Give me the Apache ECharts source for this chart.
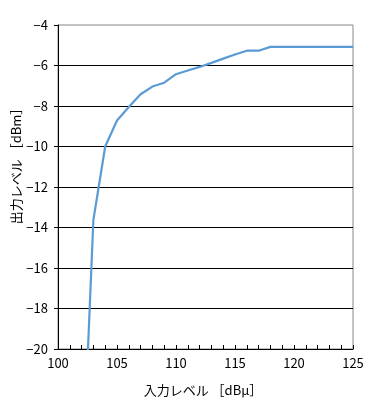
<!DOCTYPE html>
<html><head><meta charset="utf-8">
<script src="https://cdn.jsdelivr.net/npm/echarts@6/dist/echarts.min.js"></script>
<style>html,body{margin:0;padding:0;background:#fff}#c{width:372px;height:420px}</style>
</head><body><div id="c"></div>
<script>
var inputLevel = [102, 103, 104, 105, 106, 107, 108, 109, 110, 111, 112, 113, 114, 115, 116, 117, 118, 119, 120, 121, 122, 123, 124, 125];
var outputLevel = [-27.5, -13.62, -10.0, -8.72, -8.05, -7.42, -7.04, -6.85, -6.43, -6.25, -6.07, -5.87, -5.66, -5.46, -5.27, -5.27, -5.08, -5.08, -5.08, -5.08, -5.08, -5.08, -5.08, -5.08];
var xTitle = '入力レベル ［dBμ］';
var yTitle = '出力レベル ［dBm］';
var font = '"Noto Sans CJK JP", "Noto Sans", sans-serif';
var chart = echarts.init(document.getElementById('c'), null, {renderer: 'canvas'});
chart.setOption({
  animation: false,
  backgroundColor: '#fff',
  grid: {left: 58, right: 19, top: 25, bottom: 71, show: true, borderColor: '#888', borderWidth: 1},
  xAxis: {
    type: 'value', min: 100, max: 125, interval: 5,
    axisLine: {show: true, onZero: false, lineStyle: {color: '#000', width: 1}},
    axisTick: {show: true, inside: true, length: 4, lineStyle: {color: '#000'}},
    minorTick: {show: true, splitNumber: 5, length: 4, lineStyle: {color: '#000'}},
    splitLine: {show: false},
    axisLabel: {color: '#000', fontSize: 13, fontFamily: font, margin: 8}
  },
  yAxis: {
    type: 'value', min: -20, max: -4, interval: 2,
    axisLine: {show: true, onZero: false, lineStyle: {color: '#000', width: 1}},
    axisTick: {show: true, inside: false, length: 4, lineStyle: {color: '#000'}},
    splitLine: {show: true, showMaxLine: false, lineStyle: {color: '#000', width: 1}},
    axisLabel: {color: '#000', fontSize: 13, fontFamily: font, margin: 10,
      formatter: function (v) { return String(v).replace('-', '−'); }}
  },
  graphic: [
    {type: 'text', x: 203, y: 390, style: {text: xTitle, fill: '#000', font: '13px ' + font, align: 'center', verticalAlign: 'middle'}},
    {type: 'text', x: 16, y: 163, rotation: Math.PI / 2, style: {text: yTitle, fill: '#000', font: '13px ' + font, align: 'center', verticalAlign: 'middle'}}
  ],
  series: [{
    type: 'line', data: inputLevel.map(function (x, i) { return [x, outputLevel[i]]; }),
    showSymbol: false, symbol: 'none', clip: true,
    lineStyle: {color: '#5b9bd5', width: 2.2}
  }]
});
</script></body></html>
